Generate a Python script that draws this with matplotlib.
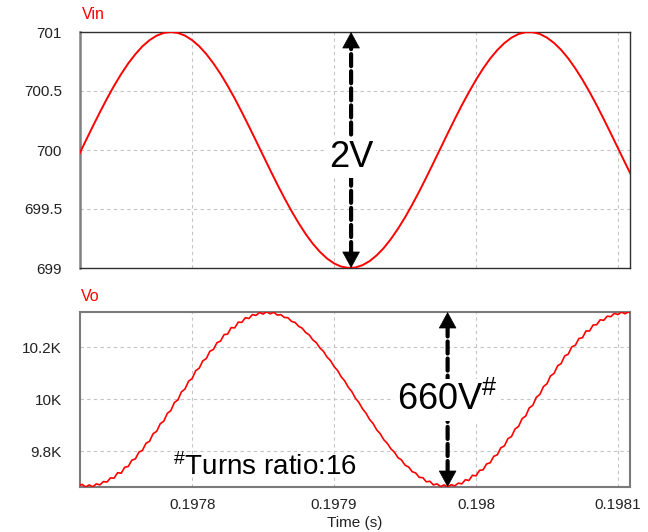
import matplotlib
matplotlib.use("Agg")
import matplotlib.pyplot as plt
import numpy as np
from matplotlib.ticker import FixedLocator

plt.rcParams['font.family'] = ['Liberation Sans', 'DejaVu Sans']
plt.rcParams['mathtext.fontset'] = 'custom'
plt.rcParams['mathtext.rm'] = 'Liberation Sans'
plt.rcParams['mathtext.it'] = 'Liberation Sans:italic'
plt.rcParams['mathtext.bf'] = 'Liberation Sans:bold'

# ---------------- data ----------------
vin_t0 = 0.19772          # time of first Vin sample (s)
vin_dt = 5.0e-6           # Vin sample spacing (s)
vin_values = [
    699.953, 700.077, 700.200, 700.320, 700.435, 700.544, 700.644, 700.734,
    700.812, 700.879, 700.931, 700.969, 700.992, 701.000, 700.992, 700.969,
    700.931, 700.879, 700.813, 700.734, 700.645, 700.545, 700.437, 700.321,
    700.201, 700.078, 699.954, 699.830, 699.709, 699.593, 699.483, 699.381,
    699.288, 699.206, 699.137, 699.081, 699.039, 699.012, 699.001, 699.004,
    699.024, 699.058, 699.107, 699.169, 699.245, 699.332, 699.429, 699.536,
    699.649, 699.768, 699.891, 700.015, 700.139, 700.261, 700.379, 700.490,
    700.595, 700.690, 700.775, 700.847, 700.906, 700.952, 700.983, 700.998,
    700.998, 700.983, 700.952, 700.907, 700.848, 700.776, 700.691, 700.596,
    700.492, 700.380, 700.262, 700.140, 700.016, 699.892, 699.770,
]

vo_t0 = 0.19772           # time of first Vo sample (s)
vo_dt = 2.5e-6            # Vo sample spacing (s)
vo_values = [
    9666, 9672, 9662, 9670, 9663, 9674, 9670, 9683, 9681, 9697,
    9696, 9717, 9715, 9738, 9741, 9765, 9770, 9796, 9803, 9830,
    9838, 9867, 9876, 9905, 9915, 9945, 9956, 9987, 9997, 10028,
    10039, 10069, 10079, 10109, 10119, 10147, 10156, 10184, 10191, 10217,
    10223, 10248, 10250, 10275, 10274, 10296, 10295, 10313, 10310, 10325,
    10322, 10333, 10327, 10336, 10328, 10334, 10323, 10325, 10314, 10313,
    10299, 10295, 10280, 10273, 10256, 10247, 10228, 10217, 10197, 10184,
    10162, 10148, 10125, 10110, 10086, 10070, 10046, 10029, 10004, 9987,
    9963, 9946, 9922, 9906, 9882, 9867, 9844, 9830, 9809, 9796,
    9775, 9766, 9746, 9739, 9721, 9716, 9699, 9698, 9682, 9684,
    9670, 9674, 9664, 9670, 9662, 9671, 9666, 9677, 9674, 9690,
    9687, 9707, 9705, 9726, 9728, 9751, 9755, 9780, 9786, 9813,
    9820, 9848, 9856, 9885, 9895, 9925, 9935, 9966, 9976, 10007,
    10018, 10048, 10059, 10089, 10099, 10128, 10137, 10166, 10173, 10201,
    10207, 10233, 10236, 10262, 10262, 10285, 10286, 10305, 10303, 10319,
    10317, 10330, 10325, 10335, 10328, 10336, 10326,
]

x_range = (0.197721, 0.1981085)
x_ticks = [0.1978, 0.1979, 0.1980, 0.1981]
x_tick_labels = ['0.1978', '0.1979', '0.198', '0.1981']

vin_range = (699.0, 701.0)
vin_ticks = [699.0, 699.5, 700.0, 700.5, 701.0]
vin_tick_labels = ['699', '699.5', '700', '700.5', '701']

vo_range = (9662, 10335)
vo_ticks = [9800, 10000, 10200]
vo_tick_labels = ['9.8K', '10K', '10.2K']

vin_arrow_t = 0.197912    # time of Vin minimum
vo_arrow_t = 0.197980     # time of Vo minimum

# ---------------- figure ----------------
W, H = 648, 532
fig = plt.figure(figsize=(W / 100, H / 100), dpi=100)
ax1 = fig.add_axes([80 / W, 1 - 268 / H, 550 / W, 236 / H])
ax2 = fig.add_axes([80 / W, 1 - 487 / H, 550 / W, 175 / H])

red = '#ff0000'
t_vin = vin_t0 + vin_dt * np.arange(len(vin_values))
t_vo = vo_t0 + vo_dt * np.arange(len(vo_values))

ax1.plot(t_vin, vin_values, color=red, lw=1.4, zorder=3)
ax2.plot(t_vo, vo_values, color=red, lw=1.2, zorder=3)

for ax, yr, yt, ytl in [(ax1, vin_range, vin_ticks, vin_tick_labels),
                        (ax2, vo_range, vo_ticks, vo_tick_labels)]:
    ax.set_xlim(*x_range)
    ax.set_ylim(*yr)
    ax.xaxis.set_major_locator(FixedLocator(x_ticks))
    ax.yaxis.set_major_locator(FixedLocator(yt))
    ax.set_yticklabels(ytl)
    ax.grid(True, ls=(0, (3, 3)), color='#c4c4c4', lw=0.8, zorder=0)
    ax.tick_params(axis='y', length=0, pad=13, labelsize=11, labelcolor='#222222')
    ax.tick_params(axis='x', length=0, pad=8, labelsize=11, labelcolor='#222222')

ax1.set_xticklabels([])
ax2.set_xticklabels(x_tick_labels)
ax2.set_xlabel('Time (s)', fontsize=11, color='#222222', labelpad=3)

for s in ax1.spines.values():
    s.set_color('#303030'); s.set_linewidth(1.0)
ax1.spines['left'].set_color('#808080'); ax1.spines['left'].set_linewidth(1.8)
for s in ax2.spines.values():
    s.set_color('#7a7a7a'); s.set_linewidth(1.5)

ax1.text(0.003, 1 + 13 / 236, 'Vin', transform=ax1.transAxes, color=red,
         fontsize=11.5, ha='left', va='baseline')
ax2.text(0.002, 1 + 11 / 175, 'Vo', transform=ax2.transAxes, color=red,
         fontsize=11.5, ha='left', va='baseline')

HEAD = 11  # head length in points
shaft_kw = dict(arrowstyle='-', lw=3, ls=(0, (2.9, 1.2)), color='black',
                shrinkA=HEAD - 1, shrinkB=HEAD - 1)
head_kw = dict(arrowstyle='-|>,head_length=0.55,head_width=0.3', lw=0.5,
               color='black', shrinkA=0, shrinkB=0, mutation_scale=20)


def double_arrow(ax, t, y0, y1):
    ax.annotate('', xy=(t, y1), xytext=(t, y0), arrowprops=shaft_kw,
                zorder=5, annotation_clip=False)
    ax.annotate('', xy=(t, y1), xytext=(0, -HEAD), textcoords='offset points',
                arrowprops=head_kw, zorder=5, annotation_clip=False)
    ax.annotate('', xy=(t, y0), xytext=(0, HEAD), textcoords='offset points',
                arrowprops=head_kw, zorder=5, annotation_clip=False)


double_arrow(ax1, vin_arrow_t, vin_range[0], vin_range[1])
ax1.text(vin_arrow_t, 699.856, '2V', fontsize=26, ha='center', va='baseline',
         zorder=6, bbox=dict(facecolor='white', edgecolor='none', pad=2))

double_arrow(ax2, vo_arrow_t, vo_range[0], vo_range[1])
ax2.text(vo_arrow_t, 9958, r'660V$^{\#}$', fontsize=26, ha='center', va='baseline',
         zorder=6, bbox=dict(facecolor='white', edgecolor='none', pad=2))

ax2.text(0.169, 0.0686, r'$^{\#}$Turns ratio:16', transform=ax2.transAxes,
         fontsize=20, ha='left', va='baseline', zorder=6)

fig.savefig('out.png', dpi=100)
